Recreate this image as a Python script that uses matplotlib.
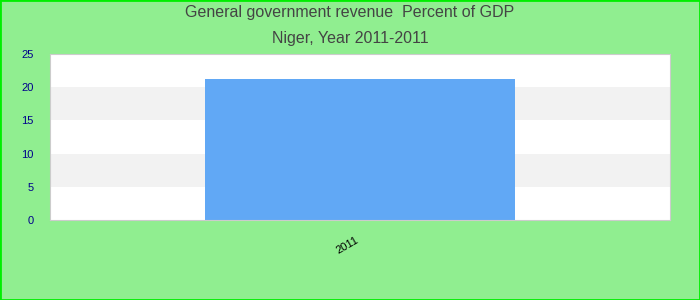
import matplotlib.pyplot as plt
from matplotlib.patches import Rectangle

years = ['2011']
revenue = [21.2]
title_lines = ['General government revenue  Percent of GDP', 'Niger, Year 2011-2011']

plt.rcParams['font.family'] = ['Liberation Sans', 'DejaVu Sans']

fig = plt.figure(figsize=(7, 3), dpi=100, facecolor='#90ee90')
fig.patches.append(Rectangle((0, 0), 1, 1, transform=fig.transFigure,
                             fill=False, edgecolor='#00ee00', linewidth=2))
ax = fig.add_axes([0.0714, 0.267, 0.886, 0.553])

# alternating bands
for lo in range(0, 25, 5):
    ax.axhspan(lo, lo + 5, color='#f2f2f2' if (lo // 5) % 2 else 'white',
               zorder=0, linewidth=0)

ax.bar(range(len(years)), revenue, width=0.5, color='#61a8f5', zorder=2)

ax.set_xlim(-0.5, 0.5)
ax.set_ylim(0, 25)
ax.set_yticks(range(0, 26, 5))
ax.set_xticks(range(len(years)))
ax.set_xticklabels(years, rotation=30, ha='right', fontsize=8)
ax.tick_params(axis='y', colors='#00008b', labelsize=8, length=0, pad=12)
ax.tick_params(axis='x', length=0, pad=11)
for s in ax.spines.values():
    s.set_color('#cccccc')

fig.text(0.5, 1 - 13 / 300, title_lines[0], ha='center', va='center',
         fontsize=11.5, color='#444444')
fig.text(0.5, 1 - 38 / 300, title_lines[1], ha='center', va='center',
         fontsize=11.5, color='#444444')

fig.savefig('out.png', dpi=100, facecolor=fig.get_facecolor())
